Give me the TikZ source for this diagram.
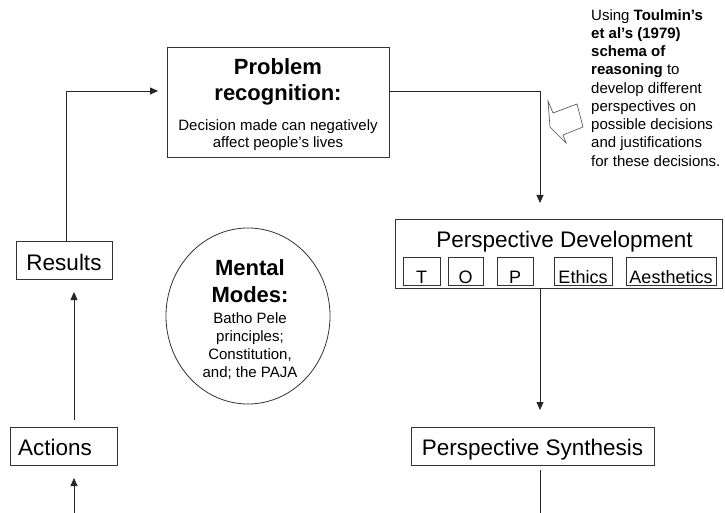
\documentclass[tikz,border=0pt]{standalone}
\usepackage{fontspec}
\setmainfont{Liberation Sans}
\usetikzlibrary{arrows.meta,shapes.geometric}
\begin{document}
\begin{tikzpicture}[x=1pt,y=-1pt,
  box/.style={draw=black!80, line width=0.8pt, inner sep=0pt},
  link/.style={draw=black!85, line width=0.8pt},
  arr/.style={link, -{Triangle[length=8pt,width=7pt]}},
  lbl/.style={inner sep=0pt, anchor=base},
  big/.style={lbl, font=\fontsize{22.5}{26}\selectfont},
  bigb/.style={lbl, font=\fontsize{22}{26}\selectfont\bfseries},
  small/.style={lbl, font=\fontsize{15}{18}\selectfont},
  tag/.style={lbl, font=\fontsize{18}{20}\selectfont},
]
\useasboundingbox (0,0) rectangle (725,513);

% --- boxes ---
\node[box, minimum width=222pt, minimum height=110pt] (prob) at (278,102) {};
\node[box, minimum width=327pt, minimum height=69pt] (pd) at (558.5,253.5) {};
\node[box, minimum width=243pt, minimum height=38pt] (ps) at (532.5,446) {};
\node[box, minimum width=96pt, minimum height=38pt] (res) at (64,260) {};
\node[box, minimum width=107pt, minimum height=38pt] (act) at (63.5,446) {};
\node[draw=black!80, line width=0.8pt, ellipse, minimum width=164pt, minimum height=176pt, inner sep=0pt] (mm) at (248,316) {};

% --- inner boxes of perspective development ---
\node[box, minimum width=37pt, minimum height=28pt] (bt) at (421.5,271) {};
\node[box, minimum width=35pt, minimum height=28pt] (bo) at (465.5,271) {};
\node[box, minimum width=36pt, minimum height=28pt] (bp) at (515,271) {};
\node[box, minimum width=58pt, minimum height=28pt] (be) at (583,271) {};
\node[box, minimum width=90pt, minimum height=28pt] (ba) at (671,271) {};

% --- texts ---
\node[bigb] (probA) at (278,75) {Problem};
\node[bigb] (probB) at (278,101) {recognition:};
\node[small] (probC) at (278,131) {Decision made can negatively};
\node[small] (probD) at (278,148) {affect people’s lives};

\node[big] (pdT) at (564.5,247) {Perspective Development};
\node[tag] (tT) at (421.5,283) {T};
\node[tag] (tO) at (465.5,283) {O};
\node[tag] (tP) at (515,283) {P};
\node[tag] (tE) at (583,283) {Ethics};
\node[tag] (tA) at (671,283) {Aesthetics};

\node[big] (psT) at (532.5,455) {Perspective Synthesis};
\node[big] (resT) at (64,270) {Results};
\node[big] (actT) at (55,455) {Actions};

\node[bigb] (mmA) at (250,275) {Mental};
\node[bigb] (mmB) at (250,302) {Modes:};
\node[small] (mmC) at (250,323) {Batho Pele};
\node[small] (mmD) at (250,341) {principles;};
\node[small] (mmE) at (250,359) {Constitution,};
\node[small] (mmF) at (250,377) {and; the PAJA};

\node[anchor=north west, inner sep=0pt, align=left,
      font=\fontsize{15}{18.25}\selectfont] (note) at (591,9)
  {Using \textbf{Toulmin’s}\\
   \textbf{et al’s (1979)}\\
   \textbf{schema of}\\
   \textbf{reasoning} to\\
   develop different\\
   perspectives on\\
   possible decisions\\
   and justifications\\
   for these decisions.};

% --- block arrow pointing at the flow ---
\draw[draw=black!70, line width=0.6pt, fill=white]
  (548,101) -- (553,113) -- (577,104) -- (583,127) -- (563,135)
  -- (566,143) -- (550,127) -- cycle;

% --- connector points ---
\coordinate (resout) at (66,241);
\coordinate (pin) at (158,91);
\coordinate (pout) at (389,91);
\coordinate (pdin) at (540,203);
\coordinate (psin) at (540,410);
\coordinate (psout) at (540,470);
\coordinate (bot1) at (540,513);
\coordinate (actout) at (74,420);
\coordinate (resin) at (74,292);
\coordinate (actin) at (74,478);
\coordinate (bot2) at (74,513);

% --- connectors ---
\draw[arr] (resout) |- (pin);
\draw[arr] (pout) -| (pdin);
\draw[arr] (pdin |- pd.south) -- (psin);
\draw[link] (psout) -- (bot1);
\draw[arr] (actout) -- (resin);
\draw[arr] (bot2) -- (actin);
\end{tikzpicture}
\end{document}
